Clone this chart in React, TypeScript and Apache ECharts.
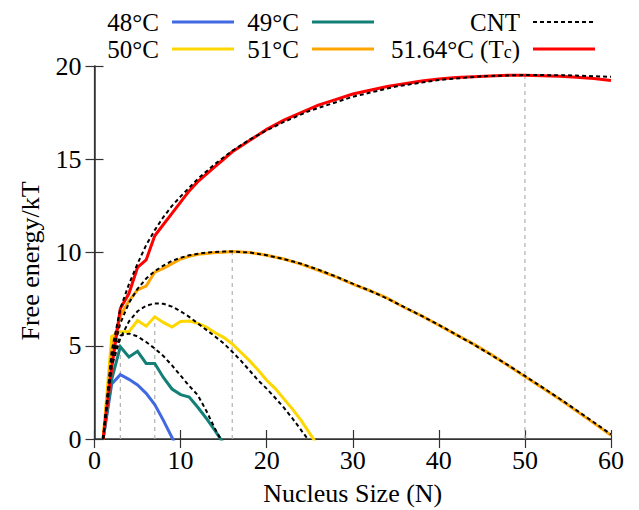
import React, { useEffect, useRef } from "react";
import * as echarts from "echarts";

// ---- data ----
const n48 = [1, 2, 3, 4, 5, 6, 7, 8, 9, 10];
const g48 = [0, 2.95, 3.45, 3.2, 2.9, 2.45, 1.85, 1.0, 0.08, -0.85];

const n49 = [1, 2, 3, 4, 5, 6, 7, 8, 9, 10, 11, 12, 13, 14, 15];
const g49 = [0, 3.2, 4.95, 4.4, 4.7, 4.05, 4.05, 3.3, 2.68, 2.38, 2.25, 1.7, 1.1, 0.45, -0.25];

const n50 = [1, 2, 3, 4, 5, 6, 7, 8, 9, 10, 11, 12, 13, 14, 15, 16, 17, 18, 19, 20, 21, 22, 23, 24, 25, 26];
const g50 = [0, 5.5, 5.75, 5.75, 6.35, 6.05, 6.55, 6.25, 6.0, 6.3, 6.33, 6.2, 6.0, 5.7, 5.45, 5.1, 4.65, 4.2, 3.7, 3.15, 2.7, 2.15, 1.6, 1.0, 0.3, -0.4];

const n51 = [1, 2, 3, 4, 5, 6, 7, 8, 9, 10, 11, 12, 13, 14, 15, 16, 17, 18, 19, 20, 22, 24, 26, 28, 30, 32, 34, 36, 38, 40, 42, 44, 46, 48, 50, 52, 54, 56, 58, 60];
const g51 = [0, 4.8, 6.6, 7.4, 8.0, 8.2, 8.95, 9.15, 9.4, 9.65, 9.8, 9.9, 9.95, 10.0, 10.02, 10.05, 10.03, 10.0, 9.93, 9.85, 9.65, 9.38, 9.05, 8.7, 8.3, 7.95, 7.55, 7.05, 6.6, 6.1, 5.6, 5.1, 4.55, 3.95, 3.35, 2.75, 2.15, 1.5, 0.85, 0.2];

const nTc = [1, 2, 3, 4, 5, 6, 7, 8, 9, 10, 11, 12, 13, 14, 15, 16, 17, 18, 19, 20, 22, 24, 26, 28, 30, 32, 34, 36, 38, 40, 42, 44, 46, 48, 50, 52, 54, 56, 58, 60];
const gTc = [0, 3.8, 7.0, 7.8, 9.2, 9.6, 10.9, 11.5, 12.1, 12.7, 13.3, 13.8, 14.2, 14.6, 15.0, 15.4, 15.7, 16.0, 16.3, 16.6, 17.1, 17.5, 17.9, 18.2, 18.5, 18.7, 18.9, 19.05, 19.2, 19.3, 19.38, 19.43, 19.47, 19.5, 19.5, 19.48, 19.45, 19.4, 19.33, 19.22];

const cnt49N = [1, 2, 3, 4, 5, 6, 7, 8, 9, 10, 11, 12, 13, 14, 15];
const cnt49G = [0, 4.3, 5.55, 5.65, 5.5, 5.2, 4.85, 4.45, 3.95, 3.4, 2.85, 2.35, 1.5, 0.55, -0.3];

const cnt50N = [1, 2, 3, 4, 5, 6, 7, 8, 9, 10, 11, 12, 13, 14, 15, 16, 17, 18, 19, 20, 21, 22, 23, 24, 25];
const cnt50G = [0, 3.9, 5.4, 6.3, 6.85, 7.15, 7.27, 7.25, 7.1, 6.85, 6.55, 6.2, 5.85, 5.5, 5.13, 4.68, 4.2, 3.68, 3.15, 2.7, 2.2, 1.68, 1.1, 0.48, -0.15];

const cnt51N = [1, 2, 3, 4, 5, 6, 7, 8, 9, 10, 11, 12, 13, 14, 15, 16, 18, 20, 22, 24, 26, 28, 30, 32, 34, 36, 38, 40, 42, 44, 46, 48, 50, 52, 54, 56, 58, 60];
const cnt51G = [0, 4.4, 6.2, 7.3, 8.05, 8.6, 9.0, 9.3, 9.55, 9.72, 9.85, 9.93, 10.0, 10.03, 10.05, 10.05, 10.0, 9.85, 9.65, 9.4, 9.08, 8.72, 8.33, 7.95, 7.53, 7.07, 6.6, 6.12, 5.6, 5.08, 4.53, 3.97, 3.38, 2.78, 2.17, 1.54, 0.9, 0.25];

const cntTcN = [1, 2, 3, 4, 5, 6, 7, 8, 9, 10, 12, 14, 16, 18, 20, 22, 25, 30, 35, 40, 45, 50, 55, 60];
const cntTcG = [0, 4.7, 7.0, 8.3, 9.4, 10.4, 11.2, 11.9, 12.5, 13.0, 13.95, 14.75, 15.45, 16.05, 16.55, 17.0, 17.6, 18.35, 18.9, 19.25, 19.45, 19.52, 19.5, 19.42];

// critical sizes (vertical guide lines) and the series they reach up to
const critN = [3, 7, 16, 50];
const critSeries: [number[], number[]][] = [
  [n49, g49],
  [n50, g50],
  [n51, g51],
  [nTc, gTc],
];

const xTicks = [0, 10, 20, 30, 40, 50, 60];
const yTicks = [0, 5, 10, 15, 20];

const FONT = "Liberation Serif";
const FS = 26;
const LFS = 25;

const C48 = "#4169e1";
const C49 = "#138078";
const C50 = "#ffd700";
const C51 = "#ffa500";
const CTc = "#ff0000";

function pairs(ns: number[], gs: number[]) {
  return ns.map((n, i) => [n, gs[i]]);
}

export default function App() {
  const ref = useRef<HTMLDivElement>(null);
  useEffect(() => {
    if (!ref.current) return;
    const chart = echarts.init(ref.current, undefined, { renderer: "svg" });

    const simLine = (name: string, ns: number[], gs: number[], color: string) => ({
      type: "line",
      name,
      data: pairs(ns, gs),
      symbol: "none",
      clip: true,
      silent: true,
      z: 3,
      lineStyle: { color, width: 3, cap: "butt", join: "miter" },
    });
    const cntLine = (ns: number[], gs: number[]) => ({
      type: "line",
      name: "CNT",
      data: pairs(ns, gs),
      symbol: "none",
      clip: true,
      silent: true,
      z: 5,
      lineStyle: { color: "#000", width: 2, type: [4, 3] },
    });
    const guides = critN.map((n, i) => {
      const [ns, gs] = critSeries[i];
      const peak = gs[ns.indexOf(n)];
      return {
        type: "line",
        data: [
          [n, 0],
          [n, peak],
        ],
        symbol: "none",
        silent: true,
        z: 1,
        lineStyle: { color: "#b0b0b0", width: 1.2, type: [4, 4] },
      };
    });

    const axisLabel = { fontFamily: FONT, fontSize: FS, color: "#000" };

    const legendRow = (
      y: number,
      items: { text: string; right: number; x1: number; x2: number; color: string; dashed?: boolean; rich?: boolean }[]
    ) =>
      items.flatMap((it) => [
        {
          type: "text",
          x: it.right,
          y: y,
          style: it.rich
            ? {
                text: "{a|51.64°C (T}{s|c}{a|)}",
                textAlign: "right",
                textVerticalAlign: "middle",
                fill: "#000",
                rich: {
                  a: { fontFamily: FONT, fontSize: LFS, fill: "#000", lineHeight: 24 },
                  s: { fontFamily: FONT, fontSize: 18, fill: "#000", verticalAlign: "bottom", padding: [9, 0, 0, 0], lineHeight: 18 },
                },
              }
            : {
                text: it.text,
                textAlign: "right",
                textVerticalAlign: "middle",
                fontFamily: FONT,
                fontSize: LFS,
                lineHeight: 24,
                fill: "#000",
              },
        },
        {
          type: "line",
          shape: { x1: it.x1, y1: y, x2: it.x2, y2: y },
          style: {
            stroke: it.color,
            lineWidth: it.dashed ? 2 : 3,
            lineDash: it.dashed ? [4, 3] : null,
          },
        },
      ]);

    chart.setOption({
      animation: false,
      grid: { left: 94.5, right: 28, top: 66, bottom: 71, outerBoundsMode: "none", containLabel: false },
      xAxis: [
        {
          type: "value",
          min: xTicks[0],
          max: xTicks[xTicks.length - 1],
          interval: 10,
          name: "Nucleus Size (N)",
          nameLocation: "middle",
          nameGap: 41,
          nameTextStyle: { fontFamily: FONT, fontSize: FS, color: "#000" },
          axisLine: { lineStyle: { color: "#333", width: 1.5 } },
          axisTick: { inside: true, length: 9, lineStyle: { color: "#333", width: 1.2 } },
          axisLabel: { ...axisLabel, margin: 8 },
          splitLine: { show: false },
        },
        {
          type: "value",
          position: "top",
          min: xTicks[0],
          max: xTicks[xTicks.length - 1],
          interval: 10,
          axisLine: { lineStyle: { color: "#333", width: 1.2 } },
          axisTick: { inside: true, length: 9, lineStyle: { color: "#333", width: 1.2 } },
          axisLabel: { show: false },
          splitLine: { show: false },
        },
      ],
      yAxis: [
        {
          type: "value",
          min: yTicks[0],
          max: yTicks[yTicks.length - 1],
          interval: 5,
          axisLine: { lineStyle: { color: "#333", width: 1.2 } },
          axisTick: { inside: true, length: 9, lineStyle: { color: "#333", width: 1.2 } },
          axisLabel: { ...axisLabel, margin: 13 },
          splitLine: { show: false },
        },
        {
          type: "value",
          position: "right",
          min: yTicks[0],
          max: yTicks[yTicks.length - 1],
          interval: 5,
          axisLine: { lineStyle: { color: "#333", width: 1.5 } },
          axisTick: { inside: true, length: 9, lineStyle: { color: "#333", width: 1.2 } },
          axisLabel: { show: false },
          splitLine: { show: false },
        },
      ],
      series: [
        ...guides,
        simLine("48°C", n48, g48, C48),
        simLine("49°C", n49, g49, C49),
        simLine("50°C", n50, g50, C50),
        simLine("51°C", n51, g51, C51),
        simLine("51.64°C (Tc)", nTc, gTc, CTc),
        cntLine(cnt49N, cnt49G),
        cntLine(cnt50N, cnt50G),
        cntLine(cnt51N, cnt51G),
        cntLine(cntTcN, cntTcG),
      ],
      graphic: [
        {
          type: "text",
          x: 30,
          y: 261,
          rotation: Math.PI / 2,
          style: {
            text: "Free energy/kT",
            textAlign: "center",
            textVerticalAlign: "middle",
            fontFamily: FONT,
            fontSize: FS,
            fill: "#000",
          },
        },
        ...legendRow(22, [
          { text: "48°C", right: 159, x1: 172, x2: 234, color: C48 },
          { text: "49°C", right: 299, x1: 312, x2: 374, color: C49 },
          { text: "CNT", right: 520, x1: 533, x2: 595, color: "#000", dashed: true },
        ]),
        ...legendRow(49, [
          { text: "50°C", right: 159, x1: 172, x2: 234, color: C50 },
          { text: "51°C", right: 299, x1: 312, x2: 374, color: C51 },
          { text: "51.64°C (Tc)", right: 520, x1: 533, x2: 595, color: CTc, rich: true },
        ]),
      ],
    });
    return () => chart.dispose();
  }, []);
  return (
    <div
      ref={ref}
      style={{ position: "absolute", left: 0, top: 0, width: 639, height: 510 }}
    />
  );
}
